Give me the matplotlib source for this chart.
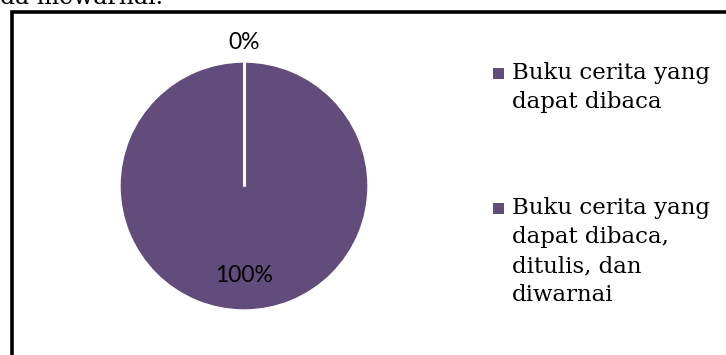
import numpy as np
import matplotlib.pyplot as plt
from matplotlib.patches import Rectangle

labels = ['Buku cerita yang\ndapat dibaca',
          'Buku cerita yang\ndapat dibaca,\nditulis, dan\ndiwarnai']
values = [0, 100]
pct_labels = ['0%', '100%']
color = '#614C7C'

W, H = 726, 355
fig = plt.figure(figsize=(W / 100, H / 100), dpi=100)

# pie area: center ~ (244, 186) px, radius ~124 px
ax = fig.add_axes([(244 - 124) / W, (H - 310) / H, 248 / W, 248 / H])
wedges, _ = ax.pie(values, colors=[color, color], startangle=90, counterclock=False,
                   wedgeprops=dict(edgecolor='white', linewidth=1))
ax.set_aspect('equal')
ax.set_xlim(-1, 1)
ax.set_ylim(-1, 1)

# white slice border where the 0% slice sits
for w in wedges:
    a = np.deg2rad(w.theta1)
    ax.plot([0, np.cos(a)], [0, np.sin(a)], color='white', linewidth=2.2, solid_capstyle='butt')

dists = [1.16, 0.72]
for w, txt, d in zip(wedges, pct_labels, dists):
    ang = np.deg2rad((w.theta1 + w.theta2) / 2)
    ax.text(d * np.cos(ang), d * np.sin(ang), txt, ha='center', va='center',
            fontsize=16.5, family='Lato', color='black', clip_on=False)

# legend, drawn as squares + serif text
leg_y = [73, 208]
for lab, y in zip(labels, leg_y):
    fig.add_artist(Rectangle(((498 - 5.5) / W, 1 - (y + 5.5) / H), 11 / W, 11 / H,
                             transform=fig.transFigure, facecolor=color, edgecolor='none'))
    fig.text(512 / W, 1 - (y - 11) / H, lab, family='DejaVu Serif', fontsize=16.5,
             va='top', ha='left', linespacing=1.42)

# frame of the chart box, cut off at right and bottom
fig.patches.append(Rectangle((11.5 / W, -0.2), 1.2, 1.2 - 11.5 / H, transform=fig.transFigure,
                             fill=False, edgecolor='black', linewidth=2.6))
# cut-off line of text above the chart
fig.text(-14 / W, 1 - 4.5 / H, 'ada mewarnai.', family='DejaVu Serif', fontsize=17,
         va='baseline', ha='left')

fig.savefig('out.png', dpi=100)
